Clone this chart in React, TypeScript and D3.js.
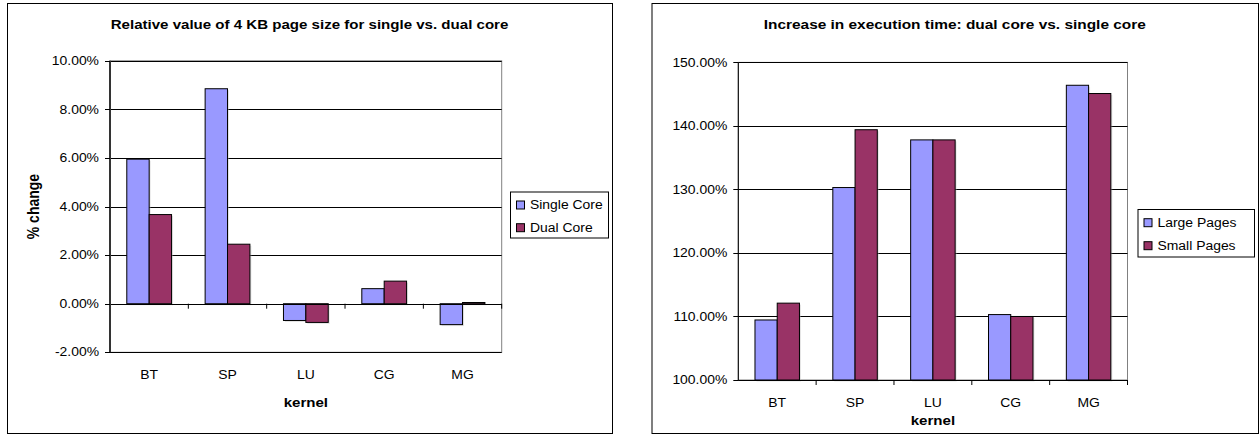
import React from 'react';
import * as d3 from 'd3';

const kernels = ['BT', 'SP', 'LU', 'CG', 'MG'];

const singleCore = [5.95, 8.85, -0.69, 0.62, -0.86];
const dualCore = [3.67, 2.45, -0.77, 0.93, 0.05];
const leftTicks = [-2, 0, 2, 4, 6, 8, 10];
const leftSeriesNames = ['Single Core', 'Dual Core'];

const largePages = [109.45, 130.3, 137.8, 110.3, 146.4];
const smallPages = [112.1, 139.4, 137.8, 110.0, 145.1];
const rightTicks = [100, 110, 120, 130, 140, 150];
const rightSeriesNames = ['Large Pages', 'Small Pages'];

const COLORS = ['#9999FF', '#993366'];
const FONT = '"Liberation Sans", Arial, sans-serif';
const SX = 1.16;

type TProps = { x: number; y: number; anchor?: string; size?: number; bold?: boolean; rotate?: boolean; children: React.ReactNode };
const T = ({ x, y, anchor = 'start', size = 12, bold = false, rotate = false, children }: TProps) => (
  <text
    transform={`translate(${x},${y}) ${rotate ? `rotate(-90) scale(1,${SX})` : `scale(${SX},1)`}`}
    textAnchor={anchor}
    dominantBaseline="central"
    fontFamily={FONT}
    fontSize={size}
    fontWeight={bold ? 'bold' : 'normal'}
    fill="#000"
  >
    {children}
  </text>
);

type ChartProps = {
  box: { x: number; y: number; w: number; h: number };
  plot: { x0: number; x1: number; y0: number; y1: number };
  domain: [number, number];
  ticks: number[];
  baseline: number;
  series: number[][];
  names: string[];
  title: string;
  titleSize: number;
  titleY: number;
  catY: number;
  kernelY: number;
  yTitle?: string;
  yTitleX?: number;
  legend: { x: number; y: number; w: number; h: number; r0: number; r1: number };
  thickAxis?: boolean;
};

const Chart = (p: ChartProps) => {
  const { box, plot } = p;
  const y = d3.scaleLinear().domain(p.domain).range([plot.y1, plot.y0]);
  const x = d3.scaleBand<string>().domain(kernels).range([plot.x0, plot.x1]).padding(0);
  const inner = d3
    .scaleBand<number>()
    .domain(p.series.map((_, i) => i))
    .range([0, x.bandwidth()])
    .paddingInner(0)
    .paddingOuter(0.75);
  const yb = y(p.baseline);
  const boundaries = kernels.slice(1).map((k) => x(k)!);
  return (
    <g>
      <rect x={box.x + 0.5} y={box.y + 0.5} width={box.w} height={box.h} fill="#fff" stroke="#000" strokeWidth={1} />
      <T x={(box.x + box.x + box.w) / 2} y={p.titleY} anchor="middle" bold size={p.titleSize}>
        {p.title}
      </T>
      {/* plot area */}
      <rect x={plot.x0} y={plot.y0} width={plot.x1 - plot.x0} height={plot.y1 - plot.y0} fill="#fff" stroke="#808080" strokeWidth={1} />
      {p.ticks.map((t) => (
        <line key={t} x1={plot.x0} x2={plot.x1} y1={Math.round(y(t)) + 0.5} y2={Math.round(y(t)) + 0.5} stroke="#000" strokeWidth={1} />
      ))}
      {p.series.map((vals, si) =>
        vals.map((v, ci) => {
          const bx = x(kernels[ci])! + inner(si)!;
          const top = Math.min(y(v), yb);
          const h = Math.abs(y(v) - yb);
          return (
            <g key={`${si}-${ci}`}>
              <rect x={bx + 1.5} y={top + 1.5} width={inner.bandwidth()} height={Math.max(h, 0.5)} fill="#bbb" opacity={0.4} />
              <rect x={bx} y={top} width={inner.bandwidth()} height={Math.max(h, 0.5)} fill={COLORS[si]} stroke="#000" strokeWidth={1} />
            </g>
          );
        })
      )}
      {/* category axis */}
      <line x1={plot.x0} x2={plot.x1} y1={Math.round(yb) + 0.5} y2={Math.round(yb) + 0.5} stroke="#000" strokeWidth={1} />
      {boundaries.map((b, i) => (
        <line key={i} x1={b} x2={b} y1={yb} y2={yb + 5} stroke="#000" strokeWidth={1} />
      ))}
      <line x1={plot.x1} x2={plot.x1} y1={yb} y2={yb + 5} stroke="#000" strokeWidth={1} />
      {/* value axis */}
      <line x1={plot.x0} x2={plot.x0} y1={plot.y0} y2={plot.y1} stroke={p.thickAxis ? '#333' : '#000'} strokeWidth={p.thickAxis ? 2 : 1} />
      {p.ticks.map((t) => (
        <line key={t} x1={plot.x0 - 5} x2={plot.x0} y1={Math.round(y(t)) + 0.5} y2={Math.round(y(t)) + 0.5} stroke="#000" strokeWidth={1} />
      ))}
      {p.ticks.map((t) => (
        <T key={t} x={plot.x0 - 11} y={y(t)} anchor="end">
          {`${t.toFixed(2)}%`}
        </T>
      ))}
      {kernels.map((k) => (
        <T key={k} x={x(k)! + x.bandwidth() / 2} y={p.catY} anchor="middle">
          {k}
        </T>
      ))}
      <T x={(plot.x0 + plot.x1) / 2} y={p.kernelY} anchor="middle" bold size={13}>
        kernel
      </T>
      {p.yTitle && (
        <T x={p.yTitleX!} y={(plot.y0 + plot.y1) / 2} anchor="middle" bold rotate size={14}>
          {p.yTitle}
        </T>
      )}
      {/* legend */}
      <rect x={p.legend.x + 0.5} y={p.legend.y + 0.5} width={p.legend.w} height={p.legend.h} fill="#fff" stroke="#000" strokeWidth={1} />
      {p.names.map((n, i) => {
        const ry = i === 0 ? p.legend.r0 : p.legend.r1;
        return (
          <g key={n}>
            <rect x={p.legend.x + 6.5} y={ry - 4} width={8} height={8} fill={COLORS[i]} stroke="#000" strokeWidth={1} />
            <T x={p.legend.x + 20} y={ry}>
              {n}
            </T>
          </g>
        );
      })}
    </g>
  );
};

export default function App() {
  return (
    <svg width={1260} height={435} style={{ position: 'absolute', left: 0, top: 0 }}>
      <rect width={1260} height={435} fill="#fff" />
      <Chart
        box={{ x: 7, y: 3, w: 605, h: 430 }}
        plot={{ x0: 110, x1: 501.7, y0: 60.8, y1: 352.3 }}
        domain={[-2, 10]}
        ticks={leftTicks}
        baseline={0}
        series={[singleCore, dualCore]}
        names={leftSeriesNames}
        title="Relative value of 4 KB page size for single vs. dual core"
        titleSize={13}
        titleY={24}
        catY={375}
        kernelY={402}
        yTitle="% change"
        yTitleX={33}
        legend={{ x: 510, y: 191.5, w: 98, h: 46, r0: 205, r1: 227.7 }}
        thickAxis
      />
      <Chart
        box={{ x: 651.5, y: 3, w: 606.5, h: 430 }}
        plot={{ x0: 738.3, x1: 1127.5, y0: 62.4, y1: 380 }}
        domain={[100, 150]}
        ticks={rightTicks}
        baseline={100}
        series={[largePages, smallPages]}
        names={rightSeriesNames}
        title="Increase in execution time: dual core vs. single core"
        titleSize={13.3}
        titleY={24}
        catY={403}
        kernelY={420}
        legend={{ x: 1137.5, y: 209, w: 116.5, h: 47.5, r0: 222.7, r1: 245.7 }}
      />
    </svg>
  );
}
